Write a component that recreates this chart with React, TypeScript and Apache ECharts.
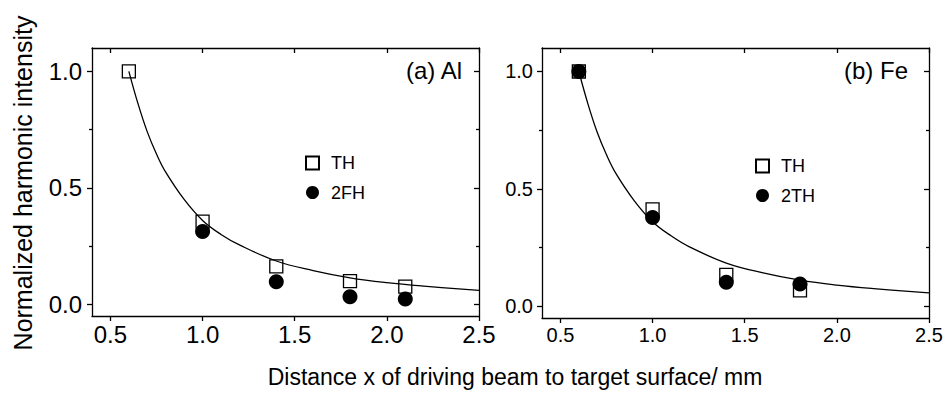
import React, { useEffect, useRef } from "react";
import * as echarts from "echarts";

// ---- data ----
const alX = [0.6, 1.0, 1.4, 1.8, 2.1];
const alTH = [1.0, 0.355, 0.163, 0.1, 0.076];
const al2FHX = [1.0, 1.4, 1.8, 2.1];
const al2FH = [0.313, 0.097, 0.033, 0.023];

const feX = [0.6, 1.0, 1.4, 1.8];
const feTH = [1.0, 0.413, 0.134, 0.068];
const fe2TH = [1.0, 0.378, 0.102, 0.095];

const fitX = [0.6, 0.65, 0.7, 0.75, 0.8, 0.9, 1.0, 1.1, 1.2, 1.4, 1.6, 1.8, 2.0, 2.2, 2.5];
const fitAl = [1.0, 0.86, 0.74, 0.645, 0.567, 0.45, 0.36, 0.3, 0.255, 0.186, 0.145, 0.114, 0.093, 0.078, 0.06];
const fitFe = [1.0, 0.86, 0.74, 0.645, 0.567, 0.45, 0.36, 0.3, 0.253, 0.184, 0.142, 0.111, 0.09, 0.075, 0.057];

const xTicks = [0.5, 1.0, 1.5, 2.0, 2.5];
const yTicks = [0.0, 0.5, 1.0];
const yMinor = [0.25, 0.75];

const FONT = "Liberation Sans, Arial, Helvetica, sans-serif";

const pairs = (xs: number[], ys: number[]) => xs.map((x, i) => [x, ys[i]]);

function App() {
  const ref = useRef<HTMLDivElement>(null);
  useEffect(() => {
    if (!ref.current) return;
    const chart = echarts.init(ref.current, undefined, { renderer: "svg" });
    const lineStyle = { color: "#000", width: 1.3 };

    const xAxesFor = (g: number, fs: number, margin: number) => [
      {
        type: "value", gridIndex: g, min: 0.4, max: 2.5, position: "bottom",
        axisLine: { show: true, onZero: false, lineStyle },
        axisTick: { show: true, inside: false, length: 5, customValues: xTicks, lineStyle },
        axisLabel: {
          show: true, customValues: xTicks, margin, color: "#000", fontSize: fs, fontFamily: FONT,
          formatter: (v: number) => v.toFixed(1),
        },
        splitLine: { show: false },
      },
      {
        type: "value", gridIndex: g, min: 0.4, max: 2.5, position: "top",
        axisLine: { show: true, onZero: false, lineStyle },
        axisTick: { show: true, inside: true, length: 5, customValues: xTicks, lineStyle },
        axisLabel: { show: false },
        splitLine: { show: false },
      },
    ];
    const yAxesFor = (g: number, fs: number, margin: number) => [
      {
        type: "value", gridIndex: g, min: -0.05, max: 1.1, position: "left",
        axisLine: { show: true, onZero: false, lineStyle },
        axisTick: { show: true, inside: false, length: 5, customValues: yTicks, lineStyle },
        axisLabel: {
          show: true, customValues: yTicks, margin, color: "#000", fontSize: fs, fontFamily: FONT,
          formatter: (v: number) => v.toFixed(1),
        },
        splitLine: { show: false },
      },
      {
        type: "value", gridIndex: g, min: -0.05, max: 1.1, position: "right",
        axisLine: { show: true, onZero: false, lineStyle },
        axisTick: { show: true, inside: true, length: 5, customValues: yTicks, lineStyle },
        axisLabel: { show: false },
        splitLine: { show: false },
      },
      {
        type: "value", gridIndex: g, min: -0.05, max: 1.1, position: "left",
        axisLine: { show: false, onZero: false },
        axisTick: { show: true, inside: false, length: 3, customValues: yMinor, lineStyle },
        axisLabel: { show: false },
        splitLine: { show: false },
      },
      {
        type: "value", gridIndex: g, min: -0.05, max: 1.1, position: "right",
        axisLine: { show: false, onZero: false },
        axisTick: { show: true, inside: true, length: 3, customValues: yMinor, lineStyle },
        axisLabel: { show: false },
        splitLine: { show: false },
      },
    ];

    const sq = {
      symbol: "rect", symbolSize: 13,
      itemStyle: { color: "rgba(255,255,255,0)", borderColor: "#000", borderWidth: 1.3, opacity: 1 },
    };
    const dot = { symbol: "circle", symbolSize: 15, itemStyle: { color: "#000", opacity: 1 } };
    const fitStyle = {
      type: "line", showSymbol: false, symbol: "none", smooth: 0.4,
      lineStyle: { color: "#000", width: 1.3 }, silent: true,
    };

    const legendBase = {
      orient: "vertical", itemWidth: 13, itemHeight: 13, itemGap: 11.5, selectedMode: false,
      textStyle: { color: "#000", fontSize: 18, fontFamily: FONT, lineHeight: 13, padding: [0, 0, 0, 7] },
    };

    chart.setOption({
      animation: false,
      backgroundColor: "#fff",
      grid: [
        { left: 92, top: 48, width: 387, height: 268, containLabel: false },
        { left: 542, top: 48, width: 387, height: 270, containLabel: false },
      ],
      xAxis: [...xAxesFor(0, 24, 6), ...xAxesFor(1, 20, 7)],
      yAxis: [...yAxesFor(0, 24, 10), ...yAxesFor(1, 20, 9)],
      legend: [
        { ...legendBase, left: 300, top: 149, data: ["TH", "2FH"] },
        { ...legendBase, left: 750, top: 152, data: ["TH", "2TH"] },
      ],
      series: [
        { ...fitStyle, name: "fit Al", xAxisIndex: 0, yAxisIndex: 0, data: pairs(fitX, fitAl) },
        { type: "scatter", name: "TH", xAxisIndex: 0, yAxisIndex: 0, ...sq, data: pairs(alX, alTH) },
        { type: "scatter", name: "2FH", xAxisIndex: 0, yAxisIndex: 0, ...dot, data: pairs(al2FHX, al2FH) },
        { ...fitStyle, name: "fit Fe", xAxisIndex: 2, yAxisIndex: 4, data: pairs(fitX, fitFe) },
        { type: "scatter", name: "TH", xAxisIndex: 2, yAxisIndex: 4, ...sq, data: pairs(feX, feTH) },
        { type: "scatter", name: "2TH", xAxisIndex: 2, yAxisIndex: 4, ...dot, data: pairs(feX, fe2TH) },
      ],
      graphic: [
        {
          type: "text", left: 406, top: 58,
          style: { text: "(a) Al", fill: "#000", font: `24px ${FONT}` },
        },
        {
          type: "text", left: 844, top: 58,
          style: { text: "(b) Fe", fill: "#000", font: `24px ${FONT}` },
        },
        {
          type: "text", x: 23, y: 183, rotation: Math.PI / 2,
          style: {
            text: "Normalized harmonic intensity", fill: "#000", font: `25px ${FONT}`,
            align: "center", verticalAlign: "middle",
          },
        },
        {
          type: "text", x: 515, y: 377,
          style: {
            text: "Distance x of driving beam to target surface/ mm", fill: "#000", font: `23px ${FONT}`,
            align: "center", verticalAlign: "middle",
          },
        },
      ],
    });
    return () => chart.dispose();
  }, []);
  return (
    <div
      ref={ref}
      style={{ position: "fixed", left: 0, top: 0, width: 947, height: 400, background: "#fff" }}
    />
  );
}

export default App;
